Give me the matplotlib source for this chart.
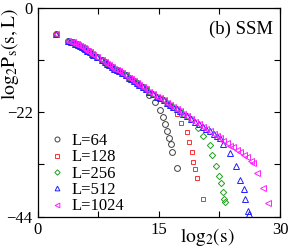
import matplotlib
matplotlib.use('Agg')
import matplotlib.pyplot as plt
from matplotlib.ticker import MultipleLocator

plt.rcParams['font.family'] = ['Liberation Serif', 'DejaVu Serif']
plt.rcParams['mathtext.fontset'] = 'stix'

# common part of the curve (log2 s, log2 P)
main_x = [2.3, 3.8, 4.1, 4.4, 4.65, 4.85, 5.05, 5.3, 5.5, 5.7, 5.9, 6.1, 6.3, 6.5, 6.7, 6.9,
          7.35, 7.95, 8.3, 8.6, 8.9, 9.2, 9.5, 9.8, 10.1, 10.5, 10.9, 11.3, 11.6, 11.9, 12.3,
          12.6, 13.0, 13.4, 13.8, 14.3, 14.75, 15.2, 15.6, 16.0, 16.4, 16.8, 17.2, 17.6, 18.0,
          18.5, 19.0, 19.5, 20.0, 20.5, 20.9, 21.3, 21.8, 22.2, 22.6, 23.0, 23.4, 23.8, 24.2,
          24.65, 25.1, 25.5, 25.9, 26.4]
main_y = [-5.5, -6.9, -7.1, -7.3, -7.55, -7.7, -7.9, -8.1, -8.35, -8.55, -8.75, -9.0, -9.2,
          -9.4, -9.65, -9.85, -10.4, -11.0, -11.4, -11.8, -12.1, -12.45, -12.8, -13.1, -13.4,
          -13.8, -14.25, -14.7, -15.05, -15.4, -15.85, -16.2, -16.7, -17.2, -17.7, -18.2,
          -18.7, -19.1, -19.5, -20.0, -20.5, -20.9, -21.4, -21.8, -22.3, -22.8, -23.4, -24.0,
          -24.5, -25.1, -25.6, -26.0, -26.5, -26.9, -27.5, -28.0, -28.5, -29.0, -29.4, -29.9,
          -30.4, -30.9, -31.5, -32.2]

sizes = [64, 128, 256, 512, 1024]
n_main = [34, 41, 47, 55, 64]   # how many points of the common curve each L follows

tail_x = [
    [13.8, 14.5, 15.1, 15.5, 15.8, 16.0, 16.3, 16.5, 16.7, 17.2],
    [16.8, 17.2, 17.8, 18.5, 18.8, 19.1, 19.3, 19.5, 19.7, 20.5],
    [19.9, 20.5, 21.3, 21.6, 22.1, 22.5, 22.7, 22.9, 23.1, 23.2],
    [23.0, 23.8, 24.6, 25.1, 25.5, 25.7, 26.0, 26.2],
    [26.7, 27.1, 27.9, 28.5],
]
tail_y = [
    [-18.3, -19.9, -21.5, -23.0, -24.5, -26.0, -27.4, -28.6, -30.3, -33.8],
    [-21.2, -22.3, -24.3, -26.2, -28.3, -30.3, -32.4, -34.0, -35.9, -40.3],
    [-25.4, -27.0, -28.8, -31.1, -33.4, -35.4, -36.9, -38.7, -40.3, -41.0],
    [-28.6, -30.6, -33.3, -36.2, -38.2, -40.3, -42.7, -43.5],
    [-32.7, -34.7, -38.0, -41.1],
]

markers = ['o', 's', 'D', '^', '<']
colors = ['#404040', '#ff3030', '#20a020', '#2020ff', '#ff20ff']
msizes = [4.2, 3.0, 3.2, 4.0, 4.0]

fig = plt.figure(figsize=(2.91, 2.52), dpi=100)
ax = fig.add_axes([0.129, 0.140, 0.833, 0.829])

for i in range(len(sizes)):
    n = n_main[i]
    xs = main_x[:n] + tail_x[i]
    ys = main_y[:n] + tail_y[i]
    ax.plot(xs, ys, linestyle='none', marker=markers[i], mfc='none', mec=colors[i],
            ms=msizes[i], mew=0.7, label='L=%d' % sizes[i])

ax.set_xlim(0, 30)
ax.set_ylim(-44, 0)
ax.xaxis.set_major_locator(MultipleLocator(15))
ax.xaxis.set_minor_locator(MultipleLocator(7.5))
ax.yaxis.set_major_locator(MultipleLocator(22))
ax.yaxis.set_minor_locator(MultipleLocator(11))
ax.tick_params(which='both', direction='in', top=True, right=True, labelsize=12, width=0.8)
ax.tick_params(which='major', length=4)
ax.tick_params(which='minor', length=4)
for s in ax.spines.values():
    s.set_linewidth(0.9)
ax.get_yticklabels()[-1].set_verticalalignment('top')

ax.set_xlabel(r'$\mathrm{log_2(s)}$', fontsize=14)
ax.xaxis.set_label_coords(0.70, -0.045)
ax.set_ylabel(r'$\mathrm{log_2P_s(s,L)}$', fontsize=14)
ax.yaxis.set_label_coords(-0.07, 0.78)

ax.text(0.97, 0.94, '(b) SSM', transform=ax.transAxes, ha='right', va='top', fontsize=13.5)

ax.legend(loc='upper left', bbox_to_anchor=(0.045, 0.40), frameon=False, fontsize=12,
          numpoints=1, handlelength=1.0, handletextpad=0.4, labelspacing=0.02,
          borderpad=0, borderaxespad=0, markerscale=0.85)

fig.savefig('out.png', dpi=100)
